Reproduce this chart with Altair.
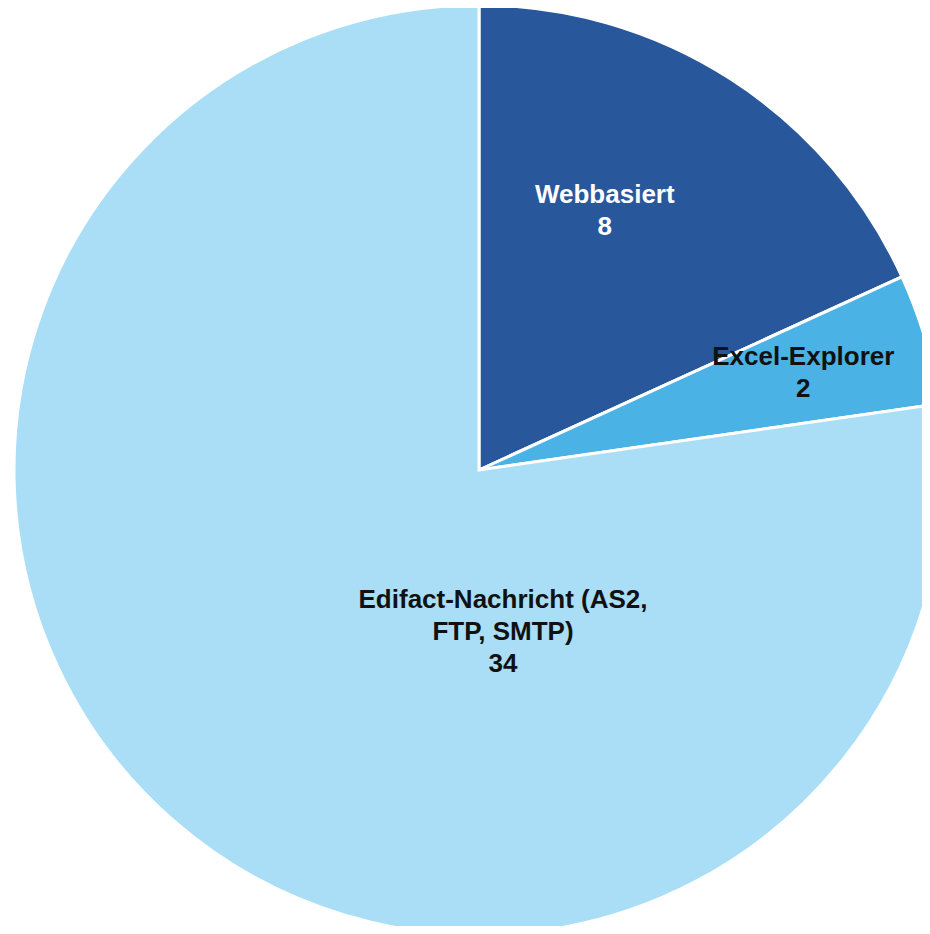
import altair as alt
import pandas as pd

categories = ["Webbasiert", "Excel-Explorer", "Edifact-Nachricht (AS2,\nFTP, SMTP)"]
values = [8, 2, 34]
colors = ["#28579C", "#4AB2E5", "#A9DEF6"]
text_colors = ["#FFFFFF", "#111111", "#111111"]

df = pd.DataFrame({
    "cat": categories,
    "value": values,
    "order": list(range(len(categories))),
})
df["label"] = df["cat"] + "\n" + df["value"].astype(str)

CX, CY, R = 471, 462, 465

base = alt.Chart(df).encode(
    theta=alt.Theta("value:Q", stack=True),
    order=alt.Order("order:Q", sort="ascending"),
)

pie = base.mark_arc(outerRadius=R, stroke="white", strokeWidth=3).encode(
    x=alt.value(CX),
    y=alt.value(CY),
    color=alt.Color("cat:N", scale=alt.Scale(domain=categories, range=colors), legend=None),
)

# label layout: (radius, dx, dy) per slice
label_layout = [(290, -31, -31), (338, 0, -18), (0, 24, 130)]

layers = [pie]
for i, (rad, dx, dy) in enumerate(label_layout):
    t = base.transform_calculate(
        show=f"datum.order == {i} ? datum.label : ''"
    ).mark_text(
        radius=rad, dx=dx, dy=dy, font="Liberation Sans", fontWeight="bold",
        fontSize=26, lineBreak="\n", lineHeight=32, align="center", baseline="middle",
        color=text_colors[i],
    ).encode(
        x=alt.value(CX),
        y=alt.value(CY),
        text="show:N",
    )
    layers.append(t)

chart = alt.layer(*layers).properties(
    width=914, height=918, autosize=alt.AutoSizeParams(type="none"), padding=0,
    background="white",
).configure_view(stroke=None)

chart.save("out.html", embed_options={"renderer": "svg", "actions": False})
